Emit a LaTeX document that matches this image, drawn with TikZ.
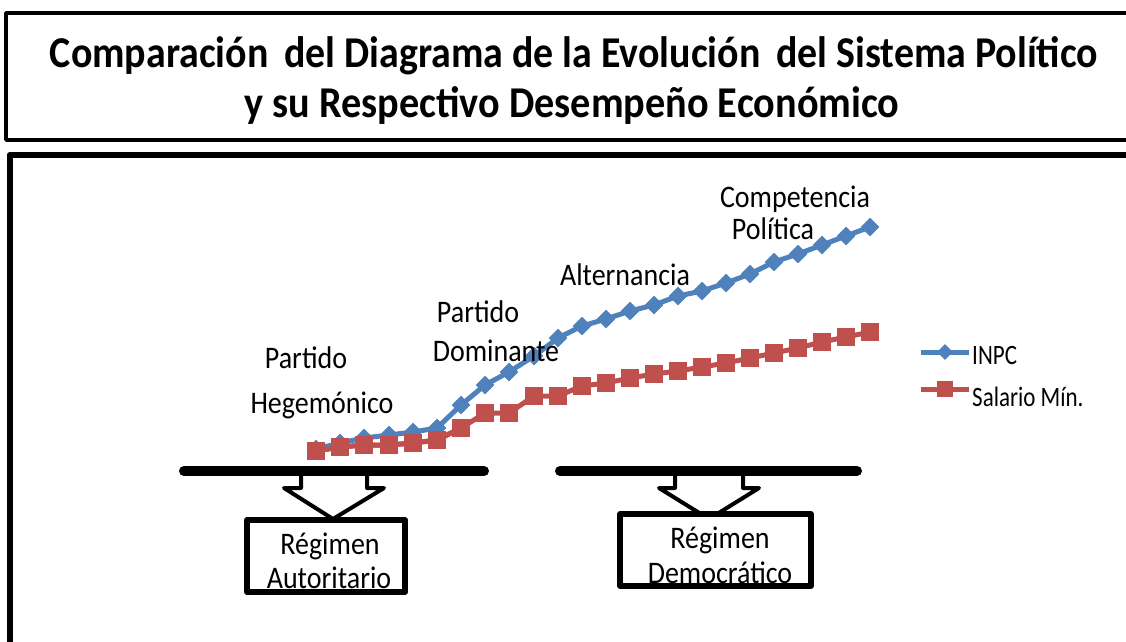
\documentclass[tikz,border=0pt]{standalone}
\usepackage{fontspec}
\setmainfont{Carlito}
\usetikzlibrary{plotmarks}
\definecolor{inpc}{HTML}{4F81BD}
\definecolor{sal}{HTML}{C0504D}
\newcommand{\tallA}[1]{\scalebox{1}[1.12]{#1}}
\newcommand{\tallB}[1]{\scalebox{1}[1.22]{#1}}
\tikzset{
  lbl/.style={anchor=base, inner sep=0pt, font=\fontsize{28}{28}\selectfont},
  leg/.style={anchor=base west, inner sep=0pt, font=\fontsize{23}{23}\selectfont},
  ttl/.style={anchor=base, inner sep=0pt, font=\fontsize{44}{44}\selectfont\bfseries},
  bluel/.style={inpc, line width=5pt, line join=round, mark=square*, mark size=6.3pt,
    mark options={rotate=45, fill=inpc, draw=inpc, line width=0.5pt}},
  redl/.style={sal, line width=5pt, line join=round, mark=square*, mark size=8.7pt,
    mark options={fill=sal, draw=sal, line width=0.5pt}},
  bar/.style={line width=10pt, line cap=round},
  blockarrow/.style={draw, fill=white, line width=4pt, line join=round},
  regbox/.style={draw, fill=white, line width=5.5pt, line join=round}
}
\begin{document}
\begin{tikzpicture}[x=1pt, y=-1pt]
\useasboundingbox (0,0) rectangle (1126,641);
\clip (0,0) rectangle (1126,641);
% frames
\draw[line width=3.5pt, line join=round] (6,13) rectangle (1150,140);
\draw[line width=6pt, line join=round] (9.5,155) rectangle (1150,700);
% title
\node[ttl] (t1) at (574,67) {\resizebox{1048pt}{\height}{Comparación\, del Diagrama de la Evolución\, del Sistema Político}};
\node[ttl] (t2) at (572,117) {\resizebox{655pt}{\height}{y su Respectivo Desempeño Económico}};
% series
\draw[redl] plot coordinates {(316,451) (340,447) (364,445) (389,445) (413,443) (437,440) (461,428) (485,413) (509,413) (534,396) (558,396) (582,386) (606,383) (630,378) (654,374) (678,371) (702,367) (726,363) (750,358) (774,353) (798,348) (822,342) (846,337) (870,332)};
\draw[bluel] plot coordinates {(316,449) (340,443) (364,438) (389,435) (413,432) (437,428) (461,405) (485,385) (509,372) (534,356) (558,338) (582,326) (606,319) (630,311) (654,305) (678,296) (702,291) (726,283) (750,274) (774,262) (798,254) (822,245) (846,236) (870,227)};
\draw[redl] plot coordinates {(316,451) (340,447) (364,445) (389,445) (413,443) (437,440) (461,428)};
% legend
\draw[inpc, line width=5pt] (921,352) -- (969,352);
\node[inpc, fill=inpc, minimum size=11pt, inner sep=0pt, rotate=45] (lm1) at (945,352) {};
\node[leg] (l1) at (972,364) {\tallB{INPC}};
\draw[sal, line width=5pt] (921,389) -- (969,389);
\node[sal, fill=sal, minimum size=16pt, inner sep=0pt] (lm2) at (945,389) {};
\node[leg] (l2) at (972,406) {\tallB{Salario Mín.}};
% labels
\node[lbl] (p1) at (306,368) {\tallA{Partido}};
\node[lbl] (h1) at (322,413) {\tallA{Hegemónico}};
\node[lbl] (p2) at (478,322) {\tallA{Partido}};
\node[lbl] (d2) at (496,361) {\tallA{Dominante}};
\node[lbl] (a3) at (625,285) {\tallA{Alternancia}};
\node[lbl] (c4) at (795,207) {\tallA{Competencia}};
\node[lbl] (p4) at (773,239) {\tallA{Política}};
% arrows and boxes
\draw[blockarrow] (301,474) -- (301,488) -- (284,488) -- (333,519) -- (384,488) -- (367,488) -- (367,474);
\draw[bar] (184,471) -- (484,471);
\draw[regbox] (247,520) rectangle (405,592);
\node[lbl] (r1) at (330,554) {\tallA{Régimen}};
\node[lbl] (a1) at (329,588) {\tallA{Autoritario}};
\draw[blockarrow] (675,474) -- (675,488) -- (659,488) -- (709,519) -- (759,488) -- (743,488) -- (743,474);
\draw[bar] (560,471) -- (857,471);
\draw[regbox] (620,514) rectangle (811,586);
\node[lbl] (r2) at (720,548) {\tallA{Régimen}};
\node[lbl] (d1) at (720,583) {\tallA{Democrático}};
\end{tikzpicture}
\end{document}
